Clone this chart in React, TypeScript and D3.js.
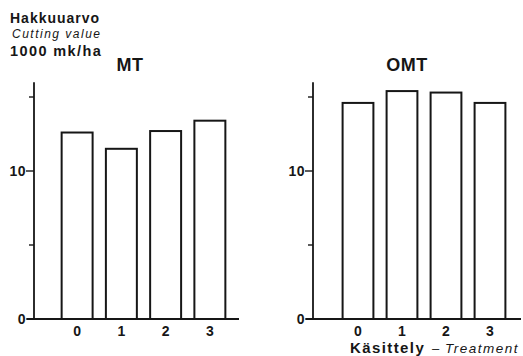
import { useEffect, useRef } from "react";
import * as d3 from "d3";

// Treatment classes and cutting value (1000 mk/ha) per site type
const treatments = ["0", "1", "2", "3"];
const mtValues = [12.6, 11.5, 12.7, 13.4];
const omtValues = [14.6, 15.4, 15.3, 14.6];
const yTicks = [0, 5, 10, 15];
const yTickLabels = ["0", "", "10", ""];

const width = 523;
const height = 356;
const ink = "#161616";
const font = "'Liberation Sans', Arial, Helvetica, sans-serif";

const App = () => {
  const svgRef = useRef<SVGSVGElement | null>(null);

  useEffect(() => {
    const svg = d3.select(svgRef.current);
    svg.selectAll("*").remove();

    const y = d3.scaleLinear().domain([0, 15]).range([319, 97]);

    const panels = [
      { title: "MT", values: mtValues, axisX: 34, range: [55, 232], lineEnd: 239, titleX: 130 },
      { title: "OMT", values: omtValues, axisX: 313, range: [336, 512], lineEnd: 521, titleX: 407 },
    ];

    panels.forEach((p) => {
      const g = svg.append("g");
      const x = d3
        .scaleBand()
        .domain(treatments)
        .range(p.range as [number, number])
        .paddingInner(0.3)
        .paddingOuter(0.15);

      // bars
      g.selectAll("rect")
        .data(p.values)
        .enter()
        .append("rect")
        .attr("x", (_d, i) => x(treatments[i])!)
        .attr("y", (d) => y(d))
        .attr("width", x.bandwidth())
        .attr("height", (d) => y(0) - y(d))
        .attr("fill", "white")
        .attr("stroke", ink)
        .attr("stroke-width", 2);

      // y axis line
      g.append("line")
        .attr("x1", p.axisX)
        .attr("x2", p.axisX)
        .attr("y1", y(16))
        .attr("y2", y(0))
        .attr("stroke", ink)
        .attr("stroke-width", 1.8);

      // x axis line
      g.append("line")
        .attr("x1", p.axisX - 7)
        .attr("x2", p.lineEnd)
        .attr("y1", y(0))
        .attr("y2", y(0))
        .attr("stroke", ink)
        .attr("stroke-width", 1.8);

      // y ticks
      yTicks.forEach((t, i) => {
        g.append("line")
          .attr("x1", p.axisX - (yTickLabels[i] ? 8 : 5))
          .attr("x2", p.axisX)
          .attr("y1", y(t))
          .attr("y2", y(t))
          .attr("stroke", ink)
          .attr("stroke-width", 1.4);
        if (yTickLabels[i]) {
          g.append("text")
            .attr("x", p.axisX - 8)
            .attr("y", y(t) + 5)
            .attr("text-anchor", "end")
            .attr("font-family", font)
            .attr("font-weight", "bold")
            .attr("font-size", 14)
            .attr("letter-spacing", 0.5)
            .attr("fill", ink)
            .text(yTickLabels[i]);
        }
      });

      // x tick labels
      g.selectAll(".xl")
        .data(treatments)
        .enter()
        .append("text")
        .attr("x", (d) => x(d)! + x.bandwidth() / 2)
        .attr("y", 336)
        .attr("text-anchor", "middle")
        .attr("font-family", font)
        .attr("font-weight", "bold")
        .attr("font-size", 14)
        .attr("fill", ink)
        .text((d) => d);

      // panel title
      g.append("text")
        .attr("x", p.titleX)
        .attr("y", 71)
        .attr("text-anchor", "middle")
        .attr("font-family", font)
        .attr("font-weight", "bold")
        .attr("font-size", 18)
        .attr("letter-spacing", 0.5)
        .attr("fill", ink)
        .text(p.title);
    });

    // y axis title block
    const yt = svg.append("g").attr("font-family", font).attr("fill", ink);
    yt.append("text")
      .attr("x", 10)
      .attr("y", 23)
      .attr("font-weight", "bold")
      .attr("font-size", 14)
      .attr("letter-spacing", 1)
      .text("Hakkuuarvo");
    yt.append("text")
      .attr("x", 12)
      .attr("y", 38)
      .attr("font-style", "italic")
      .attr("font-size", 12)
      .attr("letter-spacing", 1.5)
      .text("Cutting value");
    yt.append("text")
      .attr("x", 10)
      .attr("y", 56)
      .attr("font-weight", "bold")
      .attr("font-size", 14.5)
      .attr("letter-spacing", 1.4)
      .text("1000 mk/ha");

    // x axis title
    const xt = svg
      .append("text")
      .attr("y", 353)
      .attr("font-family", font)
      .attr("fill", ink);
    xt.append("tspan")
      .attr("x", 350)
      .attr("font-weight", "bold")
      .attr("font-size", 15)
      .attr("letter-spacing", 1.4)
      .text("Käsittely");
    xt.append("tspan")
      .attr("x", 432)
      .attr("font-size", 13)
      .text("–");
    xt.append("tspan")
      .attr("x", 445)
      .attr("font-style", "italic")
      .attr("font-size", 13.5)
      .attr("letter-spacing", 1.5)
      .text("Treatment");
  }, []);

  return (
    <svg
      ref={svgRef}
      width={width}
      height={height}
      style={{ position: "absolute", left: 0, top: 0, background: "white" }}
    ></svg>
  );
};

export default App;
